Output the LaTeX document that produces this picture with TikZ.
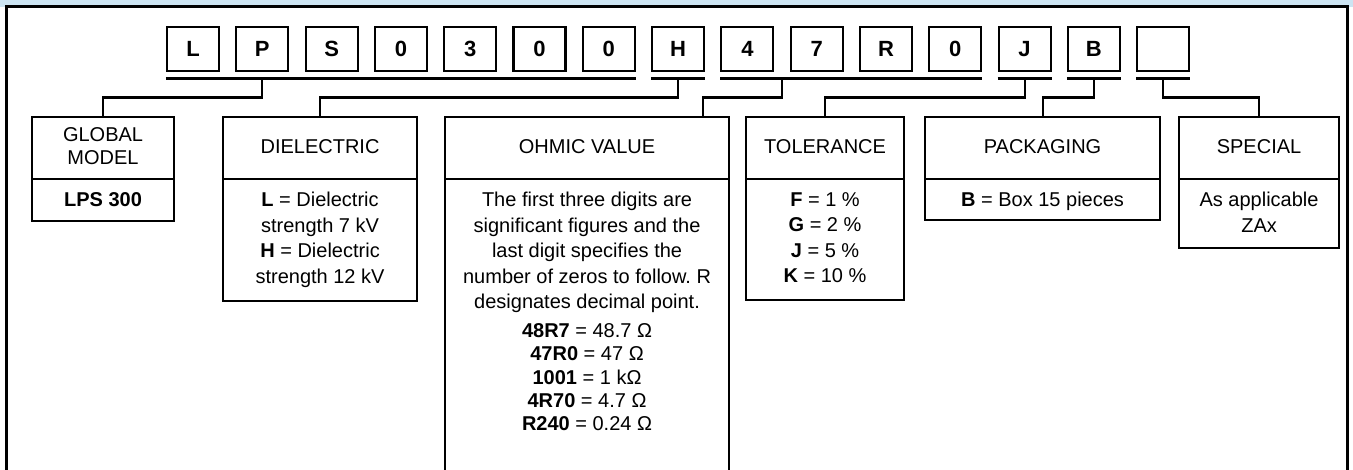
\documentclass[tikz,border=0pt]{standalone}
\usepackage{fontspec}
\setmainfont{Liberation Sans}
\usetikzlibrary{calc}
\definecolor{bandblue}{RGB}{204,228,242}
\begin{document}
\frenchspacing
\begin{tikzpicture}[x=1pt,y=-1pt,
  lbox/.style={draw, line width=2.1pt, minimum width=52pt, minimum height=44pt, inner sep=0pt, font=\fontsize{22}{26}\selectfont\bfseries},
  ibox/.style={draw, line width=2.1pt, anchor=north west, inner sep=0pt},
  wire/.style={line width=2.1pt},
  framel/.style={line width=2.2pt},
  hdr/.style={font=\fontsize{20}{22.5}\selectfont, align=center, inner sep=0pt},
  body/.style={font=\fontsize{20}{25.5}\selectfont, align=center, inner sep=0pt, anchor=north},
]
\useasboundingbox (0,0) rectangle (1353,469);
\clip (0,0) rectangle (1353,469);
\fill[bandblue] (0,0) rectangle (1353,6.5);
\draw[framel] (6.5,480) -- (6.5,6.5) -- (1347.5,6.5) -- (1347.5,480);

% letter boxes
\foreach \t [count=\i from 0] in {L,P,S,0,3,0,0,H,4,7,R,0,J,B,{}}
  \node[lbox] (b\i) at (193+69.3*\i, 49) {\t};

% underlines
\draw[wire] (b0.south west |- 0,78.5) -- (b6.south east |- 0,78.5);
\draw[wire] (b7.south west |- 0,78.5) -- (b7.south east |- 0,78.5);
\draw[wire] (b8.south west |- 0,78.5) -- (b11.south east |- 0,78.5);
\draw[wire] (b12.south west |- 0,78.5) -- (b12.south east |- 0,78.5);
\draw[wire] (b13.south west |- 0,78.5) -- (b13.south east |- 0,78.5);
\draw[wire] (b14.south west |- 0,78.5) -- (b14.south east |- 0,78.5);

% information boxes
\node[ibox, minimum width=142pt, minimum height=104pt] (glob) at (31,116) {};
\node[ibox, minimum width=194pt, minimum height=184pt] (diel) at (222,116) {};
\node[ibox, minimum width=284pt, minimum height=370pt] (ohm) at (444,116) {};
\node[ibox, minimum width=158pt, minimum height=183pt] (tol) at (745,116) {};
\node[ibox, minimum width=235pt, minimum height=103pt] (pack) at (924,116) {};
\node[ibox, minimum width=160pt, minimum height=131pt] (spec) at (1178,116) {};

% dividers
\foreach \n in {glob,diel,ohm,tol,pack,spec}
  \draw[wire] (\n.west |- 0,179) -- (\n.east |- 0,179);

% connectors
\coordinate (om) at ($(b8.south east)!0.5!(b9.south west)$);
\coordinate (ohmin) at ([xshift=259pt]ohm.north west);
\draw[wire] (b1.south |- 0,78.5) |- (glob.north |- 0,97.5) -- (glob.north);
\draw[wire] (b7.south |- 0,78.5) |- (diel.north |- 0,97.5) -- (diel.north);
\draw[wire] (om |- 0,78.5) |- (ohmin |- 0,97.5) -- (ohmin);
\draw[wire] (b12.south |- 0,78.5) |- (tol.north |- 0,97.5) -- (tol.north);
\draw[wire] (b13.south |- 0,78.5) |- (pack.north |- 0,97.5) -- (pack.north);
\draw[wire] (b14.south |- 0,78.5) |- (spec.north |- 0,97.5) -- (spec.north);

% headers
\node[hdr] (globh) at (glob.north |- 0,146) {GLOBAL\\MODEL};
\node[hdr] (dielh) at (diel.north |- 0,146.5) {DIELECTRIC};
\node[hdr] (ohmh) at (ohm.north |- 0,146.5) {OHMIC VALUE};
\node[hdr] (tolh) at (tol.north |- 0,146.5) {TOLERANCE};
\node[hdr] (packh) at (pack.north |- 0,146.5) {PACKAGING};
\node[hdr] (spech) at (spec.north |- 0,146.5) {SPECIAL};

% bodies
\node[body] (globb) at (glob.north |- 0,192) {\bfseries LPS 300};
\node[body] (dielb) at (diel.north |- 0,192) {\textbf{L} = Dielectric\\strength 7 kV\\\textbf{H} = Dielectric\\strength 12 kV};
\node[body] (ohmb) at (ohm.north |- 0,192) {The first three digits are\\significant figures and the\\last digit specifies the\\number of zeros to follow. R\\designates decimal point.};
\node[body, font=\fontsize{20}{23.3}\selectfont] (ohmf) at (ohm.north |- 0,323.5) {\textbf{48R7} = 48.7 Ω\\\textbf{47R0} = 47 Ω\\\textbf{1001} = 1 kΩ\\\textbf{4R70} = 4.7 Ω\\\textbf{R240} = 0.24 Ω};
\node[body] (tolb) at (tol.north |- 0,192) {\textbf{F} = 1 \%\\\textbf{G} = 2 \%\\\textbf{J} = 5 \%\\\textbf{K} = 10 \%};
\node[body] (packb) at (pack.north |- 0,192) {\textbf{B} = Box 15 pieces};
\node[body] (specb) at (spec.north |- 0,192) {As applicable\\ZAx};
\end{tikzpicture}
\end{document}
